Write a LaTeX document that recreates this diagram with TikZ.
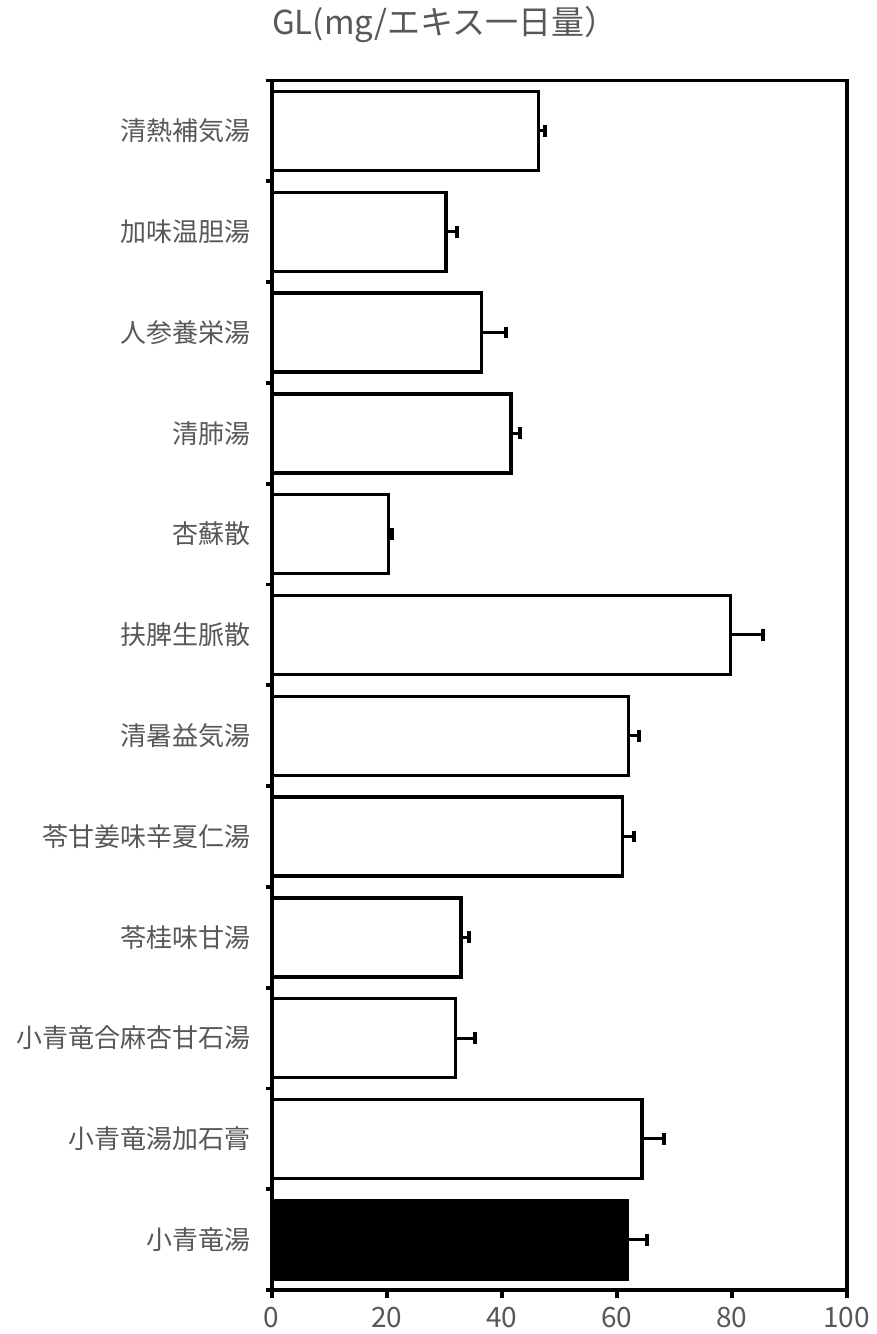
\documentclass[tikz,border=0pt]{standalone}
\usepackage{fontspec}
\setmainfont{Noto Sans CJK JP}
\definecolor{txt}{RGB}{88,88,88}
\begin{document}
\begin{tikzpicture}[x=1pt,y=-1pt,
  lbl/.style={text=txt,font=\fontsize{26}{26}\selectfont,inner sep=0pt},
  num/.style={text=txt,font=\fontsize{28}{28}\selectfont,inner sep=0pt},
  ttl/.style={text=txt,font=\fontsize{33}{33}\selectfont,inner sep=0pt},
  barbox/.style={draw=black,line width=3.3pt,line join=miter},
  frameline/.style={line width=3.8pt},
  errline/.style={line width=3pt},
  errcap/.style={line width=4pt}]
\useasboundingbox[fill=white] (0,0) rectangle (876,1334);
\def\xz{271.7}
\def\xs{5.75}
\foreach \k/\name/\val/\err/\fc in {
  1/清熱補気湯/46.4/47.5/white,
  2/加味温胆湯/30.3/32.3/white,
  3/人参養栄湯/36.5/40.8/white,
  4/清肺湯/41.6/43.2/white,
  5/杏蘇散/20.3/20.9/white,
  6/扶脾生脈散/79.8/85.5/white,
  7/清暑益気湯/62.0/63.9/white,
  8/苓甘姜味辛夏仁湯/61.0/63.0/white,
  9/苓桂味甘湯/32.9/34.3/white,
  10/小青竜合麻杏甘石湯/32.0/35.4/white,
  11/小青竜湯加石膏/64.4/68.2/white,
  12/小青竜湯/61.8/65.2/black} {
  \pgfmathsetmacro\t{80.5+100.8*(\k-1)}
  \pgfmathsetmacro\xe{\xz+\xs*\val}
  \pgfmathsetmacro\xr{\xz+\xs*\err}
  \draw[barbox,fill=\fc] (\xz,\t+11) rectangle (\xe,\t+90);
  \draw[errline] (\xe,\t+50.4) -- (\xr,\t+50.4);
  \draw[errcap] (\xr,\t+44.5) -- (\xr,\t+56.3);
  \node[lbl,anchor=east] (lab\k) at (251,\t+50.4) {\name};
  \draw[frameline] (265.5,\t) -- (\xz,\t);
}
\draw[frameline,line join=miter] (\xz,80.5) -- (846.7,80.5) -- (846.7,1290) -- (\xz,1290) -- cycle;
\draw[frameline] (265.5,1290) -- (\xz,1290);
\foreach \v in {0,20,40,60,80,100} {
  \pgfmathsetmacro\xv{\xz+\xs*\v}
  \draw[frameline] (\xv,1290) -- (\xv,1297.5);
  \node[num] (tick\v) at (\xv,1318) {\v};
}
\node[ttl,anchor=west] (title) at (272,24) {GL(mg/エキス一日量）};
\end{tikzpicture}
\end{document}
